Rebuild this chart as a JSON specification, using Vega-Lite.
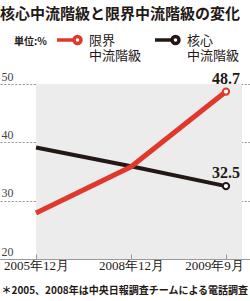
{
  "$schema": "https://vega.github.io/schema/vega-lite/v6.json",
  "width": 250,
  "height": 175,
  "autosize": {"type": "none"},
  "padding": {"top": 84, "left": 0, "right": 0, "bottom": 42},
  "background": "white",
  "title": {
    "text": "核心中流階級と限界中流階級の変化",
    "anchor": "start",
    "frame": "group",
    "font": "Noto Sans CJK JP",
    "fontSize": 15,
    "fontWeight": "bold",
    "color": "#231815",
    "offset": -1
  },
  "config": {
    "view": {"stroke": null},
    "legend": {"labelLineHeight": 17.5}
  },
  "datasets": {
    "series": [
      {"date": "2005年12月", "series": "限界中流階級", "value": 27.9},
      {"date": "2008年12月", "series": "限界中流階級", "value": 35.8},
      {"date": "2009年9月", "series": "限界中流階級", "value": 48.7},
      {"date": "2005年12月", "series": "核心中流階級", "value": 39.1},
      {"date": "2008年12月", "series": "核心中流階級", "value": 35.9},
      {"date": "2009年9月", "series": "核心中流階級", "value": 32.5}
    ],
    "band": [
      {"date": "2005年12月", "date2": "2009年9月", "top": 50, "bottom": 20}
    ]
  },
  "encoding": {
    "x": {
      "field": "date",
      "type": "ordinal",
      "scale": {
        "type": "point",
        "domain": ["2005年12月", "2008年12月", "2009年9月"],
        "padding": 0.316,
        "align": 0.6
      },
      "axis": {
        "title": "＊2005、2008年は中央日報調査チームによる電話調査",
        "titleFont": "Noto Sans CJK JP",
        "titleFontSize": 10,
        "titleFontWeight": "bold",
        "titleColor": "#231815",
        "titleAnchor": "start",
        "titleAlign": "left",
        "titleBaseline": "middle",
        "titleX": 1,
        "titleY": 31,
        "labelAngle": 0,
        "labelFont": "Liberation Serif",
        "labelFontSize": 13,
        "labelColor": "#231815",
        "labelPadding": 5,
        "labelOffset": {"condition": {"test": "datum.value === '2009年9月'", "value": -12}, "value": 0},
        "domainColor": "#999999",
        "domainWidth": 1,
        "tickColor": "#999999",
        "tickSize": -5,
        "grid": false
      }
    }
  },
  "layer": [
    {
      "data": {"name": "band"},
      "mark": {"type": "rect", "color": "#ececec", "x2Offset": 16},
      "encoding": {
        "x2": {"field": "date2"},
        "y": {"field": "top", "type": "quantitative", "scale": {"domain": [20, 50], "nice": false},
          "axis": {
            "title": null,
            "values": [20, 30, 40, 50],
            "domain": false,
            "ticks": false,
            "labelAlign": "left",
            "labelBaseline": "bottom",
            "labelPadding": -1,
            "labelOffset": -1,
            "labelFont": "Liberation Sans Narrow",
            "labelFontSize": 12,
            "labelColor": "#444444",
            "grid": true,
            "gridColor": "#999999",
            "gridDash": [2.2, 1.5],
            "gridWidth": 1
          }},
        "y2": {"field": "bottom"}
      }
    },
    {
      "data": {"name": "series"},
      "transform": [{"filter": "datum.series === '核心中流階級'"}],
      "mark": {"type": "line", "strokeWidth": 4, "strokeCap": "butt"},
      "encoding": {
        "y": {"field": "value", "type": "quantitative"},
        "color": {
          "field": "series",
          "type": "nominal",
          "scale": {"domain": ["限界中流階級", "核心中流階級"], "range": ["#e0392b", "#231815"]},
          "legend": {
            "orient": "none",
            "legendX": 14,
            "legendY": -63,
            "direction": "horizontal",
            "title": "単位:%",
            "titleOrient": "left",
            "titleFont": "Noto Sans CJK JP",
            "titleFontSize": 10,
            "titleFontWeight": "bold",
            "titleColor": "#231815",
            "titlePadding": 8,
            "titleBaseline": "middle",
            "symbolType": "M-1,0.42H0.42M1,0.42A0.29,0.29 0 1,0 0.42,0.42A0.29,0.29 0 1,0 1,0.42",
            "symbolSize": 576,
            "symbolStrokeWidth": 3.5,
            "symbolFillColor": "white",
            "labelExpr": "[slice(datum.label,0,2), slice(datum.label,2)]",
            "labelFont": "Noto Sans CJK JP",
            "labelFontSize": 13,
            "labelColor": "#231815",
            "labelBaseline": "top",
            "labelOffset": 6,
            "labelLimit": 200,
            "columnPadding": 6
          }
        }
      }
    },
    {
      "data": {"name": "series"},
      "transform": [{"filter": "datum.series === '限界中流階級'"}],
      "mark": {"type": "line", "strokeWidth": 5, "strokeCap": "butt"},
      "encoding": {
        "y": {"field": "value", "type": "quantitative"},
        "color": {"field": "series", "type": "nominal"}
      }
    },
    {
      "data": {"name": "series"},
      "transform": [{"filter": "datum.date === '2009年9月'"}],
      "mark": {"type": "point", "filled": false, "fill": "white", "fillOpacity": 1, "strokeWidth": 2, "size": 40, "opacity": 1},
      "encoding": {
        "y": {"field": "value", "type": "quantitative"},
        "color": {"field": "series", "type": "nominal"}
      }
    },
    {
      "data": {"name": "series"},
      "transform": [{"filter": "datum.date === '2009年9月'"}],
      "mark": {"type": "text", "dy": -13, "font": "Liberation Sans Narrow", "fontSize": 16, "fontWeight": "bold", "color": "#231815"},
      "encoding": {
        "y": {"field": "value", "type": "quantitative"},
        "text": {"field": "value", "type": "quantitative", "format": ".1f"}
      }
    }
  ]
}
